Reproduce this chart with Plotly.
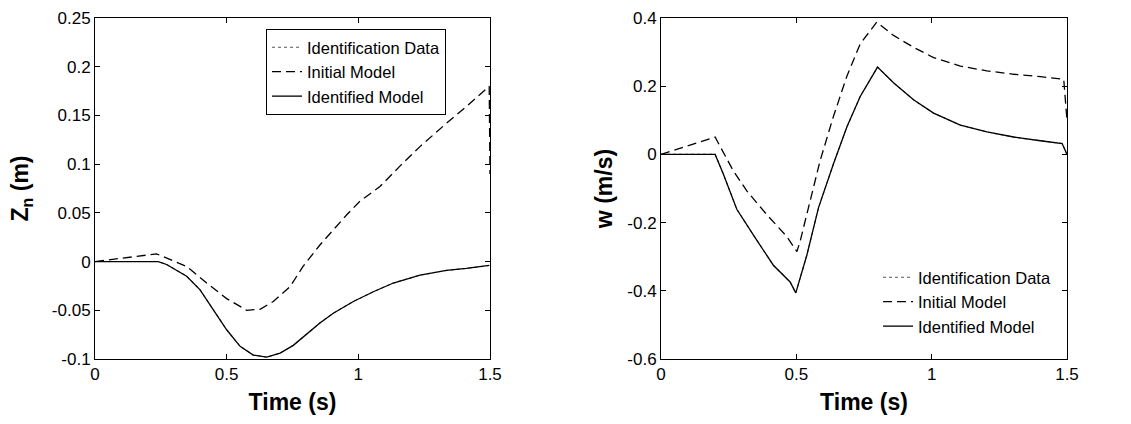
import plotly.graph_objects as go

# ---- Left panel: Z_n (m) ----
t_zn_init = [0, 0.234, 0.348, 0.424, 0.5, 0.576, 0.627, 0.677, 0.74, 0.79, 0.854, 0.905,
             0.956, 1.006, 1.082, 1.158, 1.234, 1.335, 1.41, 1.497, 1.5]
zn_init = [0, 0.0079, -0.005, -0.022, -0.038, -0.050, -0.049, -0.041, -0.026, -0.005, 0.017,
           0.033, 0.048, 0.062, 0.077, 0.098, 0.118, 0.142, 0.159, 0.18, 0.09]

t_zn_ident = [0, 0.24, 0.272, 0.348, 0.399, 0.449, 0.5, 0.551, 0.601, 0.652, 0.703, 0.753,
              0.804, 0.854, 0.905, 0.981, 1.057, 1.133, 1.234, 1.335, 1.41, 1.497]
zn_ident = [0, 0, -0.003, -0.015, -0.029, -0.050, -0.070, -0.087, -0.096, -0.098, -0.094,
            -0.086, -0.074, -0.063, -0.053, -0.041, -0.031, -0.022, -0.014, -0.009, -0.007, -0.004]

# ---- Right panel: w (m/s) ----
t_w_init = [0, 0.2, 0.216, 0.267, 0.317, 0.39, 0.465, 0.502, 0.514, 0.551, 0.588, 0.637,
            0.687, 0.736, 0.797, 0.859, 0.933, 1.007, 1.106, 1.204, 1.303, 1.402, 1.488, 1.5]
w_init = [0, 0.051, 0.027, -0.048, -0.107, -0.176, -0.241, -0.285, -0.255, -0.137, -0.018,
          0.111, 0.23, 0.324, 0.388, 0.349, 0.314, 0.284, 0.259, 0.245, 0.235, 0.228, 0.22, 0.1]

t_w_ident = [0, 0.2, 0.23, 0.28, 0.341, 0.415, 0.477, 0.498, 0.539, 0.582, 0.637, 0.687,
             0.736, 0.8, 0.859, 0.933, 1.007, 1.106, 1.204, 1.303, 1.402, 1.482, 1.5]
w_ident = [0, 0, -0.057, -0.161, -0.236, -0.325, -0.374, -0.406, -0.295, -0.156, -0.028, 0.081,
           0.17, 0.256, 0.21, 0.16, 0.121, 0.086, 0.066, 0.051, 0.04, 0.032, 0.0]

zn_ticks = [-0.1, -0.05, 0, 0.05, 0.1, 0.15, 0.2, 0.25]
zn_ticktext = ["-0.1", "-0.05", "0", "0.05", "0.1", "0.15", "0.2", "0.25"]
w_ticks = [-0.6, -0.4, -0.2, 0, 0.2, 0.4]
w_ticktext = ["-0.6", "-0.4", "-0.2", "0", "0.2", "0.4"]
x_ticks = [0, 0.5, 1, 1.5]
x_ticktext = ["0", "0.5", "1", "1.5"]

names = ["Identification Data", "Initial Model", "Identified Model"]

FONT = "Liberation Sans, Arial, sans-serif"
fig = go.Figure()

def add_panel(xa, ya, leg, t_init, v_init, t_id, v_id):
    fig.add_trace(go.Scatter(x=t_id, y=v_id, mode="lines", name=names[0], xaxis=xa, yaxis=ya,
                             legend=leg, legendgroup=leg + "a",
                             line=dict(color="#555555", width=1.1, dash="dot")))
    fig.add_trace(go.Scatter(x=t_init, y=v_init, mode="lines", name=names[1], xaxis=xa, yaxis=ya,
                             legend=leg, legendgroup=leg + "b",
                             line=dict(color="black", width=1.3, dash="9px,5px")))
    fig.add_trace(go.Scatter(x=t_id, y=v_id, mode="lines", name=names[2], xaxis=xa, yaxis=ya,
                             legend=leg, legendgroup=leg + "c",
                             line=dict(color="black", width=1.3)))

add_panel("x", "y", "legend", t_zn_init, zn_init, t_zn_ident, zn_ident)
add_panel("x2", "y2", "legend2", t_w_init, w_init, t_w_ident, w_ident)

axis_common = dict(showline=True, linecolor="black", linewidth=1, mirror="ticks",
                   ticks="inside", ticklen=5, tickcolor="black", showgrid=False,
                   zeroline=False, automargin=False,
                   tickfont=dict(family=FONT, size=17, color="black"))

title_font = dict(size=23, family=FONT, color="black")
ydom = [65 / 424, 406 / 424]
fig.update_layout(
    width=1131, height=424,
    margin=dict(l=0, r=0, t=0, b=0),
    paper_bgcolor="white", plot_bgcolor="white",
    font=dict(family=FONT, color="black"),
    xaxis=dict(domain=[95 / 1131, 490 / 1131], range=[0, 1.5], anchor="y",
               tickvals=x_ticks, ticktext=x_ticktext,
               title=dict(text="<b>Time (s)</b>", font=title_font, standoff=10),
               **axis_common),
    yaxis=dict(domain=ydom, range=[-0.1, 0.25], anchor="x",
               tickvals=zn_ticks, ticktext=zn_ticktext,
               title=dict(text="<b>Z<sub>n</sub> (m)</b>", font=title_font, standoff=16),
               **axis_common),
    xaxis2=dict(domain=[661 / 1131, 1067 / 1131], range=[0, 1.5], anchor="y2",
                tickvals=x_ticks, ticktext=x_ticktext,
                title=dict(text="<b>Time (s)</b>", font=title_font, standoff=10),
                **axis_common),
    yaxis2=dict(domain=ydom, range=[-0.6, 0.4], anchor="x2",
                tickvals=w_ticks, ticktext=w_ticktext,
                title=dict(text="<b>w (m/s)</b>", font=title_font, standoff=8),
                **axis_common),
    legend=dict(x=266 / 1131, y=1 - 29 / 424, xanchor="left", yanchor="top",
                bgcolor="white", bordercolor="black", borderwidth=1,
                font=dict(family=FONT, size=16.5, color="black"), tracegroupgap=9,
                traceorder="normal"),
    legend2=dict(x=878 / 1131, y=1 - 260 / 424, xanchor="left", yanchor="top",
                 bgcolor="rgba(0,0,0,0)", borderwidth=0,
                 font=dict(family=FONT, size=16.5, color="black"), tracegroupgap=8,
                 traceorder="normal"),
)

fig.write_html("out.html")
